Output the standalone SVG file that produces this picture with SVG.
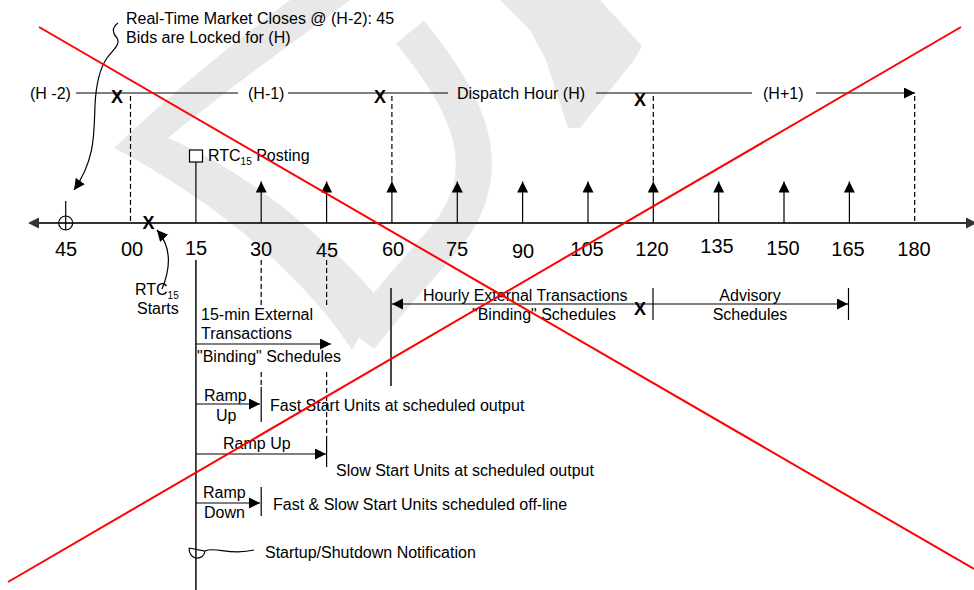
<svg xmlns="http://www.w3.org/2000/svg" width="974" height="590" viewBox="0 0 974 590">
<defs>
<style>
text{font-family:"Liberation Sans",Arial,sans-serif;font-size:16px;fill:#000}
.t{font-size:20px;text-anchor:middle}
.x{font-size:18px;font-weight:bold;text-anchor:middle}
.m{text-anchor:middle}
.ln{stroke:#000;stroke-width:1.2;fill:none}
.ax{stroke:#333;stroke-width:1.8;fill:none}
.ds{stroke:#000;stroke-width:1.2;stroke-dasharray:5,3;fill:none}
.wm{fill:#e8e8e8}
.red{stroke:#ff0000;stroke-width:2;fill:none}
</style>
<marker id="ah" markerWidth="12" markerHeight="12" refX="11" refY="5.5" orient="auto" markerUnits="userSpaceOnUse"><path d="M0,0 L11,5.5 L0,11 Z" fill="#000"/></marker>
</defs>
<rect width="974" height="590" fill="#fff"/>
<g id="watermark">
<path class="wm" d="M290,0 L350,0 C290,45 220,95 168,138 C240,168 320,230 380,300 L352,350 C300,270 205,195 114,148 C170,95 230,45 290,0 Z"/>
<path d="M410,32 C470,105 500,170 445,238 C414,274 388,302 360,338" stroke="#e8e8e8" stroke-width="36" fill="none"/>
<path class="wm" d="M500,0 L600,0 L642,46 L634,60 L580,128 L568,128 L546,60 L530,30 Z"/>
</g>
<g id="connectors">
<line class="ax" x1="39" y1="223" x2="966" y2="223"/>
<polygon points="28,223 39,217.5 39,228.5" fill="#333"/>
<polygon points="977,223 966,217.5 966,228.5" fill="#333"/>
<line class="ln" x1="76" y1="93" x2="238" y2="93"/>
<line class="ln" x1="288" y1="93" x2="448" y2="93"/>
<line class="ln" x1="596" y1="93" x2="752" y2="93"/>
<line class="ln" x1="816" y1="93" x2="915" y2="93" marker-end="url(#ah)"/>
<line class="ds" x1="130.5" y1="96" x2="130.5" y2="223"/>
<line class="ds" x1="391.9" y1="96" x2="391.9" y2="182"/>
<line class="ds" x1="653.3" y1="96" x2="653.3" y2="182"/>
<line class="ds" x1="914.7" y1="96" x2="914.7" y2="223"/>
<line class="ln" x1="261.2" y1="223" x2="261.2" y2="181.5" marker-end="url(#ah)"/>
<line class="ln" x1="326.6" y1="223" x2="326.6" y2="181.5" marker-end="url(#ah)"/>
<line class="ln" x1="391.9" y1="223" x2="391.9" y2="181.5" marker-end="url(#ah)"/>
<line class="ln" x1="457.3" y1="223" x2="457.3" y2="181.5" marker-end="url(#ah)"/>
<line class="ln" x1="522.6" y1="223" x2="522.6" y2="181.5" marker-end="url(#ah)"/>
<line class="ln" x1="588" y1="223" x2="588" y2="181.5" marker-end="url(#ah)"/>
<line class="ln" x1="653.3" y1="223" x2="653.3" y2="181.5" marker-end="url(#ah)"/>
<line class="ln" x1="718.7" y1="223" x2="718.7" y2="181.5" marker-end="url(#ah)"/>
<line class="ln" x1="784" y1="223" x2="784" y2="181.5" marker-end="url(#ah)"/>
<line class="ln" x1="849.4" y1="223" x2="849.4" y2="181.5" marker-end="url(#ah)"/>
<line class="ln" x1="195.9" y1="223" x2="195.9" y2="162"/>
<rect x="189.5" y="150" width="13" height="12" fill="#fff" stroke="#000" stroke-width="1.2"/>
<line class="ln" x1="65.7" y1="201" x2="65.7" y2="230"/>
<circle cx="65.7" cy="223" r="7" fill="none" stroke="#000" stroke-width="1.2"/>
<path class="ln" d="M118,23 C111,28 113,34 117,38 C121,44 113,50 107,58 C100,68 96,85 95,105 C94,135 95,160 74,190" marker-end="url(#ah)"/>
<path class="ln" d="M162,289 C172,265 170,245 157,230" marker-end="url(#ah)"/>
<line class="ax" x1="195.9" y1="260" x2="195.9" y2="590"/>
<line class="ds" x1="261.2" y1="260" x2="261.2" y2="305"/>
<line class="ds" x1="261.2" y1="372" x2="261.2" y2="387"/>
<line class="ds" x1="326.6" y1="260" x2="326.6" y2="306"/>
<line class="ds" x1="326.6" y1="372" x2="326.6" y2="438"/>
<line class="ax" x1="391" y1="288" x2="391" y2="386"/>
<line class="ln" x1="653" y1="304" x2="392" y2="304" marker-end="url(#ah)"/>
<line class="ln" x1="653" y1="288" x2="653" y2="320"/>
<line class="ln" x1="653" y1="304" x2="848" y2="304" marker-end="url(#ah)"/>
<line class="ln" x1="848.5" y1="288" x2="848.5" y2="320"/>
<line class="ln" x1="196" y1="344" x2="331" y2="344" marker-end="url(#ah)"/>
<line class="ln" x1="196" y1="404" x2="260" y2="404" marker-end="url(#ah)"/>
<line class="ln" x1="261.2" y1="387" x2="261.2" y2="422"/>
<line class="ln" x1="196" y1="454" x2="326" y2="454" marker-end="url(#ah)"/>
<line class="ln" x1="326.6" y1="438" x2="326.6" y2="467"/>
<line class="ln" x1="196" y1="503" x2="260" y2="503" marker-end="url(#ah)"/>
<line class="ln" x1="261.2" y1="487" x2="261.2" y2="516"/>
<path class="ln" d="M189,548 C189,561 204,561 205,551 M189,548 L205,551 C215,546 230,556 254,550"/>
</g>
<g id="top-note"><text x="126" y="24">Real-Time Market Closes @ (H-2): 45</text><text x="126" y="43">Bids are Locked for (H)</text></g>
<g id="hours">
<text x="30" y="99">(H -2)</text>
<text x="248" y="99">(H-1)</text>
<text x="457" y="99">Dispatch Hour (H)</text>
<text x="763" y="99">(H+1)</text>
<text class="x" x="117" y="103">X</text>
<text class="x" x="380" y="103">X</text>
<text class="x" x="640" y="106">X</text>
</g>
<g id="posting"><text x="208" y="161">RTC<tspan font-size="10" dy="4">15</tspan><tspan dy="-4"> Posting</tspan></text></g>
<g id="ticks">
<text class="t" x="66" y="256">45</text>
<text class="t" x="132" y="256">00</text>
<text class="t" x="196" y="255">15</text>
<text class="t" x="261" y="256">30</text>
<text class="t" x="327" y="257">45</text>
<text class="t" x="393" y="256">60</text>
<text class="t" x="457" y="256">75</text>
<text class="t" x="523" y="258">90</text>
<text class="t" x="587" y="256">105</text>
<text class="t" x="652" y="256">120</text>
<text class="t" x="717" y="253">135</text>
<text class="t" x="783" y="255">150</text>
<text class="t" x="848" y="256">165</text>
<text class="t" x="914" y="256">180</text>
<text class="x" x="148.5" y="229">X</text>
</g>
<g id="rtc-starts"><text x="135" y="295">RTC<tspan font-size="10" dy="4">15</tspan></text><text x="137" y="314">Starts</text></g>
<g id="ext15"><text x="201" y="320">15-min External</text><text x="201" y="339">Transactions</text><text x="197" y="362">"Binding" Schedules</text></g>
<g id="hourly"><text x="423" y="301">Hourly External Transactions</text><text x="472" y="320">"Binding" Schedules</text><text class="x" x="640" y="315">X</text></g>
<g id="advisory"><text class="m" x="750" y="301">Advisory</text><text class="m" x="750" y="320">Schedules</text></g>
<g id="fast"><text x="204" y="401">Ramp</text><text x="216" y="421">Up</text><text x="270" y="411">Fast Start Units at scheduled output</text></g>
<g id="slow"><text x="223" y="449">Ramp Up</text><text x="336" y="476">Slow Start Units at scheduled output</text></g>
<g id="down"><text x="203" y="498">Ramp</text><text x="204" y="518">Down</text><text x="273" y="510">Fast &amp; Slow Start Units scheduled off-line</text></g>
<g id="notify"><text x="265" y="558">Startup/Shutdown Notification</text></g>
<g id="cross">
<line class="red" x1="39" y1="27" x2="974" y2="569"/>
<line class="red" x1="961" y1="27" x2="8" y2="582"/>
</g>
</svg>
